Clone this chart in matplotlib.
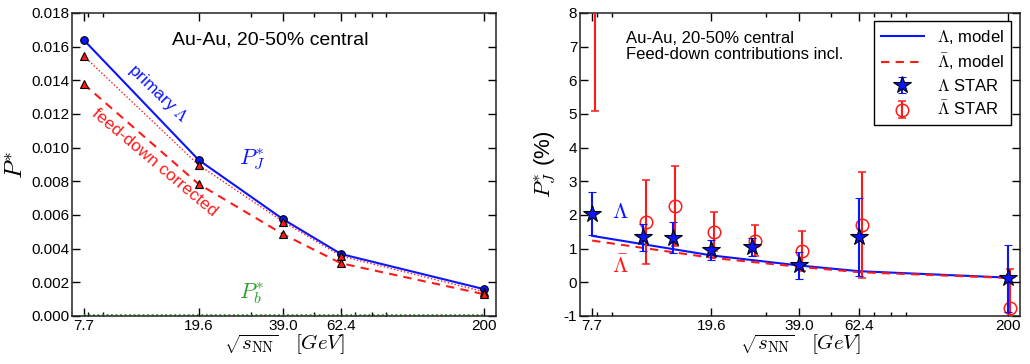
import numpy as np
import matplotlib
matplotlib.use('Agg')
import matplotlib.pyplot as plt
from matplotlib.ticker import FixedLocator, NullFormatter

plt.rcParams['font.family'] = ['Liberation Sans', 'DejaVu Sans']
plt.rcParams['mathtext.fontset'] = 'cm'
plt.rcParams['axes.unicode_minus'] = False

# --- data ---
energies = [7.7, 19.6, 39.0, 62.4, 200]
tick_labels = ["7.7", "19.6", "39.0", "62.4", "200"]
minor_ticks = [8, 9, 30, 50, 70, 80, 90]

# left panel: global polarization P*
p_primary = [0.0164, 0.00927, 0.00574, 0.00368, 0.00159]
p_feed_dotted = [0.01545, 0.00897, 0.0056, 0.00356, 0.00144]
p_feed_corr = [0.01378, 0.00784, 0.00485, 0.00313, 0.00129]
p_b = [0.00004, 0.00004, 0.00004, 0.00004, 0.00004]

# right panel: model curves (%)
lam_model = [1.38, 0.80, 0.50, 0.33, 0.14]
alam_model = [1.24, 0.73, 0.46, 0.30, 0.13]

# STAR data (%)
star_e = [7.7, 11.5, 14.5, 19.6, 27.0, 39.0, 62.4, 200]
lam_star = [2.04, 1.34, 1.33, 0.96, 1.05, 0.51, 1.34, 0.12]
lam_err = [0.63, 0.40, 0.45, 0.29, 0.27, 0.40, 1.16, 0.99]
alam_star = [8.67, 1.78, 2.27, 1.50, 1.24, 0.94, 1.70, -0.77]
alam_err = [3.57, 1.25, 1.20, 0.58, 0.47, 0.59, 1.58, 1.17]
alam_shift = 1.02

BLUE = '#0a14ff'
RED = '#ff1a1a'
GREEN = '#2ca02c'

fig = plt.figure(figsize=(10.3, 3.64), dpi=100)
ax1 = fig.add_axes([0.0699, 0.1319, 0.4117, 0.8324])
ax2 = fig.add_axes([0.5631, 0.1319, 0.4272, 0.8324])

for ax in (ax1, ax2):
    ax.set_xscale('log')
    ax.set_xlim(7.0, 220)
    ax.xaxis.set_major_locator(FixedLocator(energies))
    ax.set_xticklabels(tick_labels)
    ax.xaxis.set_minor_locator(FixedLocator(minor_ticks))
    ax.xaxis.set_minor_formatter(NullFormatter())
    ax.tick_params(which='both', direction='in', top=True, right=True, labelsize=11)
    ax.tick_params(which='major', length=6, width=1, pad=2)
    ax.tick_params(which='minor', length=3, width=1)
    for s in ax.spines.values():
        s.set_linewidth(1.1)
        s.set_edgecolor('#222222')
    ax.set_xlabel(r'$\sqrt{s_{\rm NN}}\quad[GeV]$', fontsize=15, labelpad=0)

# --- left panel ---
ax1.set_ylim(0, 0.018)
ax1.set_yticks(np.arange(0, 0.0181, 0.002))
ax1.set_yticklabels([f"{v:.3f}" for v in np.arange(0, 0.0181, 0.002)])
ax1.plot(energies, p_primary, color=BLUE, lw=1.5, zorder=3)
ax1.plot(energies, p_feed_dotted, color=RED, lw=1.0, ls=(0, (1, 1.5)), zorder=2)
ax1.plot(energies, p_feed_corr, color=RED, lw=1.5, ls=(0, (4, 3)), zorder=2)
ax1.plot(energies, p_primary, 'o', ms=5.5, mfc=BLUE, mec='black', mew=0.8, zorder=4)
ax1.plot(energies, p_feed_dotted, '^', ms=5.5, mfc=RED, mec='black', mew=0.8, zorder=4)
ax1.plot(energies, p_feed_corr, '^', ms=5.5, mfc=RED, mec='black', mew=0.8, zorder=4)
ax1.plot(energies, p_b, color=GREEN, lw=1.3, ls=(0, (1, 1.5)), zorder=2)
ax1.set_ylabel(r'$P^{*}$', fontsize=18, labelpad=2)

ax1.text(0.467, 0.91, 'Au-Au, 20-50% central', transform=ax1.transAxes,
         ha='center', va='center', fontsize=14)
ax1.text(14.1, 0.0132, r'primary $\Lambda$', color=BLUE, fontsize=12.5,
         rotation=-44, ha='center', va='center')
ax1.text(13.7, 0.0091, 'feed-down corrected', color=RED, fontsize=12.5,
         rotation=-40, ha='center', va='center')
ax1.text(30.2, 0.0093, r'$P_J^{*}$', color=BLUE, fontsize=16, ha='center', va='center')
ax1.text(30.2, 0.00137, r'$P_b^{*}$', color=GREEN, fontsize=16, ha='center', va='center')

# --- right panel ---
ax2.set_ylim(-1, 8)
ax2.set_yticks(range(-1, 9))
ax2.plot(energies, lam_model, color=BLUE, lw=1.5, label=r'$\Lambda$, model', zorder=3)
ax2.plot(energies, alam_model, color=RED, lw=1.5, ls=(0, (4, 3)),
         label=r'$\bar{\Lambda}$, model', zorder=3)
ax2.errorbar(star_e, lam_star, yerr=lam_err, fmt='*', ms=13, mfc=BLUE, mec='black',
             mew=0.8, ecolor=BLUE, elinewidth=1.5, capsize=3, capthick=1.5,
             label=r'$\Lambda$ STAR', zorder=5)
ax2.errorbar([e * alam_shift for e in star_e], alam_star, yerr=alam_err, fmt='o', ms=9,
             mfc='none', mec=RED, mew=1.1, ecolor=RED, elinewidth=1.5, capsize=3,
             capthick=1.5, label=r'$\bar{\Lambda}$ STAR', zorder=4)
ax2.set_ylabel(r'$P_J^{*}$ (%)', fontsize=16, labelpad=4)

ax2.text(0.105, 0.94, 'Au-Au, 20-50% central\nFeed-down contributions incl.',
         transform=ax2.transAxes, ha='left', va='top', fontsize=12, linespacing=1.05)
ax2.text(9.6, 2.06, r'$\Lambda$', color=BLUE, fontsize=16, ha='center', va='center')
ax2.text(9.6, 0.45, r'$\bar{\Lambda}$', color=RED, fontsize=16, ha='center', va='center')

leg = ax2.legend(loc='upper right', bbox_to_anchor=(0.98, 0.974), borderaxespad=0,
                 fontsize=12, fancybox=False, framealpha=1, edgecolor='black',
                 handlelength=2.6, labelspacing=0.35)
leg.get_frame().set_linewidth(1.0)

fig.savefig('out.png', dpi=100)
